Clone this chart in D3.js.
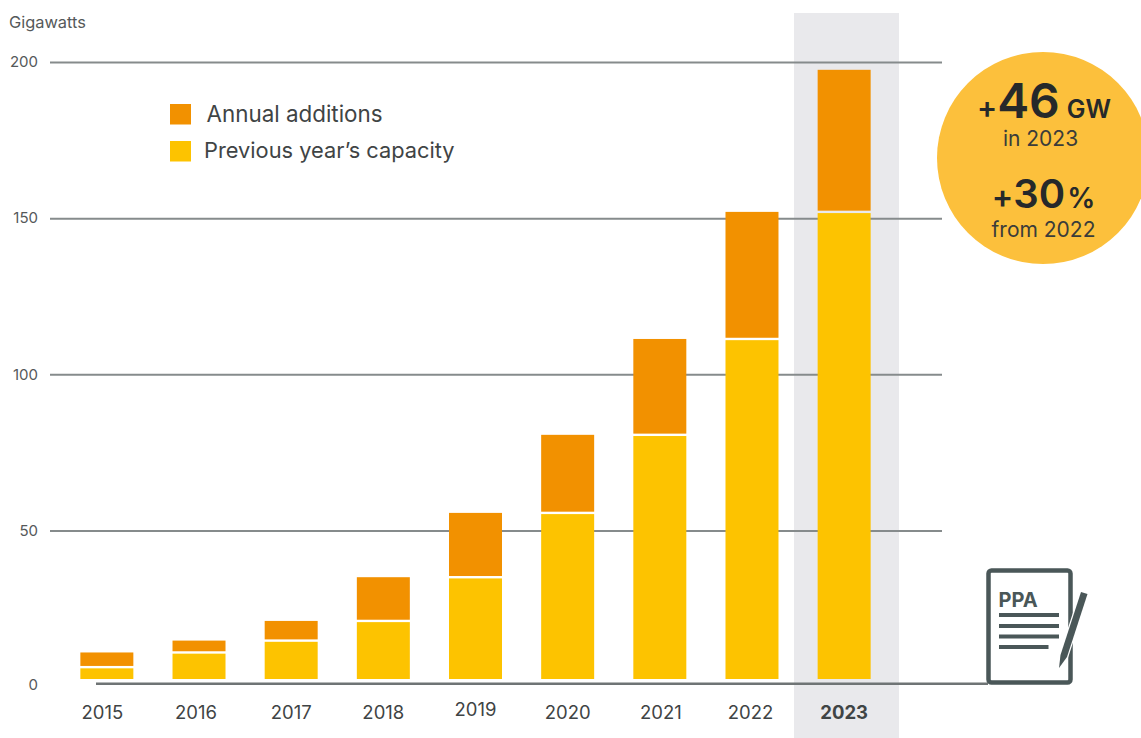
<!DOCTYPE html>
<html><head><meta charset="utf-8">
<script src="https://cdn.jsdelivr.net/npm/d3@7"></script>
<style>html,body{margin:0;background:#fff}svg{display:block}text{font-family:Inter,"Liberation Sans",sans-serif}</style>
</head><body><svg id="c" width="1141" height="738"></svg>
<script>
const years=["2015","2016","2017","2018","2019","2020","2021","2022","2023"];
const previous=[6.2,10.9,14.7,21,35,55.6,80.6,111.3,152];
const additions=[4.7,3.8,6.3,14,20.6,25,30.7,40.7,45.5];
const yTicks=[0,50,100,150,200];
const legendLabels=["Annual additions","Previous year’s capacity"];
const colAdd="#f29100",colPrev="#fdc300",grid="#868b8c",ink="#3f4445";

const svg=d3.select("#c");
const x=d3.scaleBand().domain(years).range([61,890]).paddingInner(0.425).paddingOuter(0.21);
const y=d3.scaleLinear().domain([0,200]).range([686.5,62]);
const barFloor=679;
const labelShift={"2015":-4.5,"2016":-3,"2021":1,"2022":-1.5};

// highlight band
const hl=years[years.length-1];
svg.append("rect").attr("x",794).attr("y",13).attr("width",105).attr("height",725).attr("fill","#e9e9ec");

// gridlines + labels via axis
const ax=d3.axisLeft(y).tickValues(yTicks.slice(1)).tickSize(892).tickFormat(d=>d);
const g=svg.append("g").attr("transform","translate(942,0)").call(ax);
g.select(".domain").remove();
g.selectAll("line").attr("stroke",grid).attr("stroke-width",2);
g.selectAll("text").attr("x",-904).attr("text-anchor","end").attr("fill","#55595a").attr("font-size",15);

svg.append("text").attr("x",9).attr("y",28).attr("font-size",16.4).attr("fill","#55595a").text("Gigawatts");
svg.append("text").attr("x",38).attr("y",690).attr("text-anchor","end").attr("font-size",15).attr("fill","#55595a").text(yTicks[0]);

// bars
const bars=svg.append("g").selectAll("g").data(years).join("g");
bars.append("rect").attr("x",d=>x(d)).attr("width",x.bandwidth())
  .attr("y",(d,i)=>y(previous[i])+1.2).attr("height",(d,i)=>barFloor-y(previous[i])-1.2).attr("fill",colPrev);
bars.append("rect").attr("x",d=>x(d)).attr("width",x.bandwidth())
  .attr("y",(d,i)=>y(previous[i]+additions[i])).attr("height",(d,i)=>y(previous[i])-y(previous[i]+additions[i])-1.2).attr("fill",colAdd);

// baseline
svg.append("line").attr("x1",96).attr("x2",988).attr("y1",683.8).attr("y2",683.8).attr("stroke","#6f7475").attr("stroke-width",2.6);

// x labels
svg.append("g").selectAll("text").data(years).join("text")
  .attr("x",d=>x(d)+x.bandwidth()/2+(labelShift[d]||0)).attr("y",d=>d==="2019"?716:719).attr("text-anchor","middle")
  .attr("font-size",18.5).attr("fill",ink).attr("font-weight",d=>d===hl?700:400).text(d=>d);

// legend
const lg=svg.append("g");
lg.selectAll("rect").data(legendLabels).join("rect").attr("x",170).attr("y",(d,i)=>i?141:104).attr("width",21).attr("height",20.5)
  .attr("fill",(d,i)=>i?colPrev:colAdd);
lg.selectAll("text").data(legendLabels).join("text").attr("x",(d,i)=>i?204:206.5).attr("y",(d,i)=>i?158:122)
  .attr("font-size",(d,i)=>i?21.8:22.4).attr("fill",ink).text(d=>d);

// callout
const co=svg.append("g");
co.append("circle").attr("cx",1043).attr("cy",158).attr("r",106).attr("fill","#fcc03c");
const t1=co.append("text").attr("x",1044).attr("y",118).attr("text-anchor","middle").attr("fill","#26292a").attr("font-weight",600);
t1.append("tspan").attr("font-size",30).text("+");
t1.append("tspan").attr("font-size",48).text("46");
t1.append("tspan").attr("font-size",25).attr("dx",7).text("GW");
co.append("text").attr("x",1040.5).attr("y",146).attr("text-anchor","middle").attr("font-size",21).attr("fill","#3a3c3a").text("in 2023");
const t2=co.append("text").attr("x",1043.5).attr("y",208).attr("text-anchor","middle").attr("fill","#26292a").attr("font-weight",600);
t2.append("tspan").attr("font-size",32).text("+");
t2.append("tspan").attr("font-size",40).text("30");
t2.append("tspan").attr("font-size",28).attr("dx",2).text("%");
co.append("text").attr("x",1043.5).attr("y",237).attr("text-anchor","middle").attr("font-size",21).attr("fill","#3a3c3a").text("from 2022");

// PPA icon
const ic="#4a5758";
const icon=svg.append("g");
icon.append("rect").attr("x",988.5).attr("y",570.5).attr("width",82).attr("height",112).attr("rx",3).attr("fill","#fff").attr("stroke",ic).attr("stroke-width",4.5);
icon.append("text").attr("x",998.5).attr("y",607).attr("font-size",20).attr("font-weight",700).attr("fill",ic).attr("font-family","Liberation Sans").text("PPA");
[[999,1059,615],[999,1059,626],[999,1059,636.5],[999,1048.5,647]].forEach(l=>{
  icon.append("line").attr("x1",l[0]).attr("x2",l[1]).attr("y1",l[2]).attr("y2",l[2]).attr("stroke",ic).attr("stroke-width",4);
});
icon.append("path").attr("d","M1060.5 655 L1081 592 L1087.5 594 L1067 657 L1059 668 Z").attr("fill",ic).attr("stroke","#fff").attr("stroke-width",2.5).attr("paint-order","stroke");
</script></body></html>
